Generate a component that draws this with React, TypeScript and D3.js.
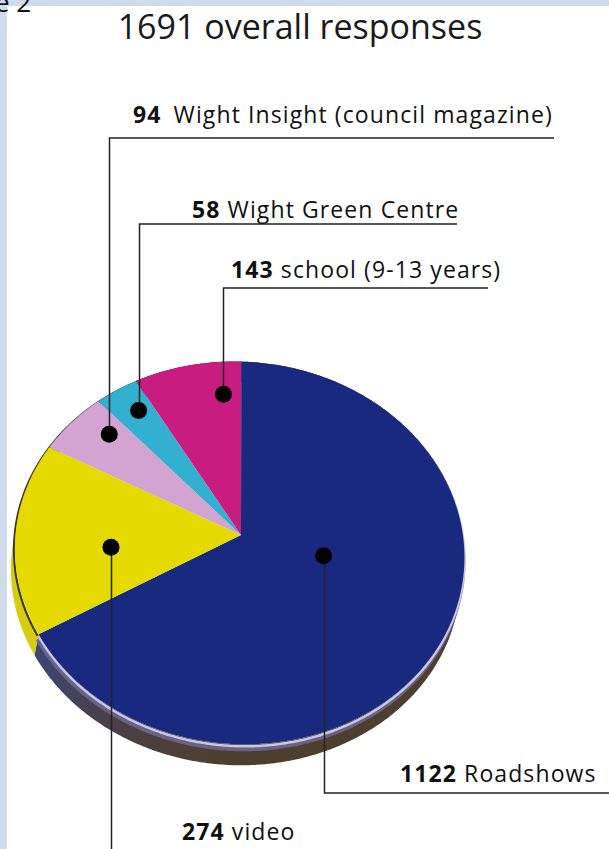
import React from 'react';
import * as d3 from 'd3';

// ---- data ----
const categories = ['Roadshows', 'video', 'Wight Insight (council magazine)', 'Wight Green Centre', 'school (9-13 years)'];
const responses = [1122, 274, 94, 58, 143];
const totalResponses = 1691;
const titleText = `${totalResponses} overall responses`;
const figureFragment = 'e 2';

// ---- styles / layout ----
const W = 609;
const H = 849;
const FONT = "'Open Sans', 'Noto Sans', sans-serif";
const topColors = ['#1a2980', '#e4da00', '#d3a3d2', '#33afd0', '#c81c80'];
const sideColors = ['url(#blueSide)', '#d6cc10', '#7d5e7c', '#1f7590', '#7a1050'];

const APEX: [number, number] = [241, 535];
const FOCAL = 1272;
const DIST = 5.68;
const TILT = (57.8 * Math.PI) / 180;
const ROLL = (4.2 * Math.PI) / 180;
const START = (-3.5 * Math.PI) / 180;
const DEPTH: [number, number] = [-4, 21];

const dotLayout = [
  { frac: 0.44, r: 0.38 },
  { frac: 0.4, r: 0.58 },
  { frac: 0.7, r: 0.82 },
  { frac: 0.6, r: 0.84 },
  { frac: 0.8, r: 0.8 },
];
const labelLayout = [
  { lineY: 793, lineEnd: W + 2, textX: 400, textY: 782, gap: 0 },
  { lineY: H + 5, lineEnd: null as number | null, textX: 182, textY: 840, gap: 0 },
  { lineY: 138, lineEnd: 554, textX: 133, textY: 123, gap: 5 },
  { lineY: 224, lineEnd: 457, textX: 192, textY: 218, gap: 0 },
  { lineY: 288, lineEnd: 488, textX: 231, textY: 278, gap: 0 },
];

function project(phi: number, r: number): [number, number] {
  const X = r * Math.sin(phi);
  const Z = r * Math.cos(phi);
  const den = DIST + Z * Math.cos(TILT);
  const px = (FOCAL * X) / den;
  const py = (-FOCAL * Z * Math.sin(TILT)) / den;
  const x = px * Math.cos(ROLL) - py * Math.sin(ROLL);
  const y = px * Math.sin(ROLL) + py * Math.cos(ROLL);
  return [APEX[0] + x, APEX[1] + y];
}

function arcPoints(a0: number, a1: number, r = 1): [number, number][] {
  const n = Math.max(2, Math.ceil((a1 - a0) / 0.01));
  return d3.range(n + 1).map((i) => project(a0 + ((a1 - a0) * i) / n, r));
}

const line = d3.line<[number, number]>();
const shift = (pts: [number, number][], dx: number, dy: number) =>
  pts.map(([x, y]) => [x + dx, y + dy] as [number, number]);

export default function App() {
  const arcs = d3
    .pie<number>()
    .sort(null)
    .startAngle(START)
    .endAngle(START + 2 * Math.PI)(responses);

  return (
    <svg
      width={W}
      height={H}
      viewBox={`0 0 ${W} ${H}`}
      style={{ position: 'absolute', left: 0, top: 0, display: 'block' }}
      fontFamily={FONT}
    >
      <defs>
        <linearGradient id="blueSide" gradientUnits="userSpaceOnUse" x1={30} y1={0} x2={220} y2={0}>
          <stop offset="0" stopColor="#3d4676" />
          <stop offset="0.4" stopColor="#4a3f48" />
          <stop offset="1" stopColor="#4d3f2e" />
        </linearGradient>
      </defs>
      <rect x={0} y={0} width={W} height={H} fill="#ffffff" />
      <rect x={0} y={0} width={W} height={6} fill="#d0dbeb" />
      <rect x={0} y={0} width={7} height={H} fill="#d0dbeb" />
      <text x={-5} y={12} fontSize={26} fill="#111">{figureFragment}</text>

      <text x={300} y={39} textAnchor="middle" fontSize={34} fill="#1a1a1a">
        {titleText}
      </text>

      {/* sides */}
      {arcs.map((a, i) => {
        const pts = arcPoints(a.startAngle, a.endAngle);
        const low = shift(pts, DEPTH[0], DEPTH[1]).reverse();
        return <path key={`side${i}`} d={(line([...pts, ...low]) as string) + 'Z'} fill={sideColors[i]} />;
      })}
      {/* rim details */}
      {arcs.map((a, i) => {
        const pts = arcPoints(a.startAngle, a.endAngle);
        if (i === 0) {
          return (
            <g key={`rim${i}`}>
              <path d={line(shift(pts, -1, 5)) as string} fill="none" stroke="#6f6c9c" strokeWidth={4} opacity={0.8} />
              <path d={line(shift(pts, 0, 2)) as string} fill="none" stroke="#c9c8e4" strokeWidth={2.5} />
            </g>
          );
        }
        return (
          <path key={`rim${i}`} d={line(shift(pts, -1, 1.5)) as string} fill="none" stroke="#3c3420" strokeWidth={2} />
        );
      })}
      {/* top faces */}
      {arcs.map((a, i) => {
        const pts = arcPoints(a.startAngle, a.endAngle);
        return <path key={`top${i}`} d={(line([APEX, ...pts]) as string) + 'Z'} fill={topColors[i]} />;
      })}

      {/* leaders */}
      {arcs.map((a, i) => {
        const dl = dotLayout[i];
        const ll = labelLayout[i];
        const [dx, dy] = project(a.startAngle + (a.endAngle - a.startAngle) * dl.frac, dl.r);
        const x = Math.round(dx) + 0.5;
        const d = ll.lineEnd == null ? `M${x},${dy}V${ll.lineY}` : `M${x},${dy}V${ll.lineY}H${ll.lineEnd}`;
        return (
          <g key={`lead${i}`}>
            <path d={d} fill="none" stroke="#222" strokeWidth={1.5} />
            <circle cx={dx} cy={dy} r={8.5} fill="#000" />
          </g>
        );
      })}

      {/* labels */}
      {labelLayout.map((ll, i) => (
        <text key={`lab${i}`} x={ll.textX} y={ll.textY} fontSize={23} letterSpacing={1.1} fill="#111">
          <tspan fontWeight="bold">{responses[i]}</tspan>
          <tspan dx={ll.gap}>{' ' + categories[i]}</tspan>
        </text>
      ))}
    </svg>
  );
}
